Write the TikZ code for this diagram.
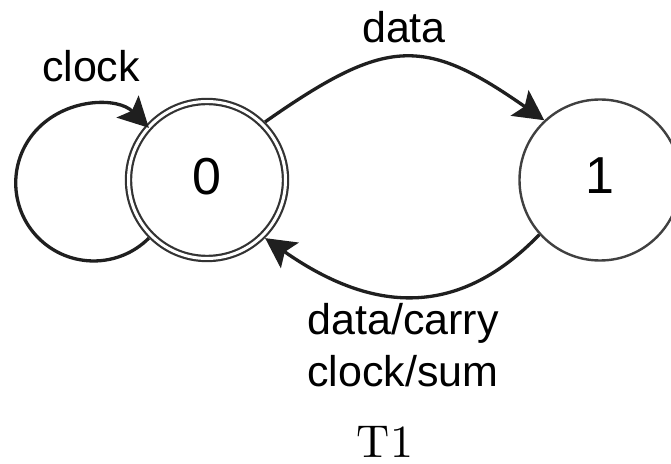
\documentclass[tikz,border=0pt]{standalone}
\usepackage{fontspec}
\newfontfamily\labfont{Liberation Sans}
\newfontfamily\titlefont{lmroman10-regular.otf}
\usetikzlibrary{arrows.meta}
\begin{document}
\begin{tikzpicture}[x=1pt,y=1pt,
  arr/.style={line width=3.3pt, draw=black!88,
    -{Stealth[length=30pt,width=31pt,inset=6pt]}},
  lab/.style={font=\labfont\fontsize{43}{52}\selectfont, inner sep=0pt},
  dig/.style={font=\labfont\fontsize{52}{60}\selectfont, text depth=8pt},
  accstate/.style={circle, draw=black!80, line width=2.2pt, double, double distance=3pt,
    minimum size=157pt, inner sep=0pt, outer sep=3.7pt, dig},
  plainstate/.style={circle, draw=black!75, line width=2.4pt,
    minimum size=161pt, inner sep=0pt, outer sep=1.2pt, dig}]
\useasboundingbox (0,0) rectangle (671,463);
\node[accstate] (s0) at (207,283) {0};
\node[plainstate] (s1) at (600,283) {1};
\draw[arr] (s0.225) arc[start angle=-45, end angle=-315, radius=78];
\draw[arr] (s0.45) to[out=35,in=145,looseness=1.35] (s1.133);
\draw[arr] (s1.222) to[out=226,in=-35,looseness=1.15] (s0.-45);
\node[lab, anchor=base] (lclock) at (91,381) {clock};
\node[lab, anchor=base] (ldata) at (404,420) {data};
\node[lab, align=center] (lout) at (403,118) {data/carry\\clock/sum};
\node[font=\titlefont\fontsize{46}{55}\selectfont, inner sep=0pt] (title) at (385,21.5) {T1};
\end{tikzpicture}
\end{document}
